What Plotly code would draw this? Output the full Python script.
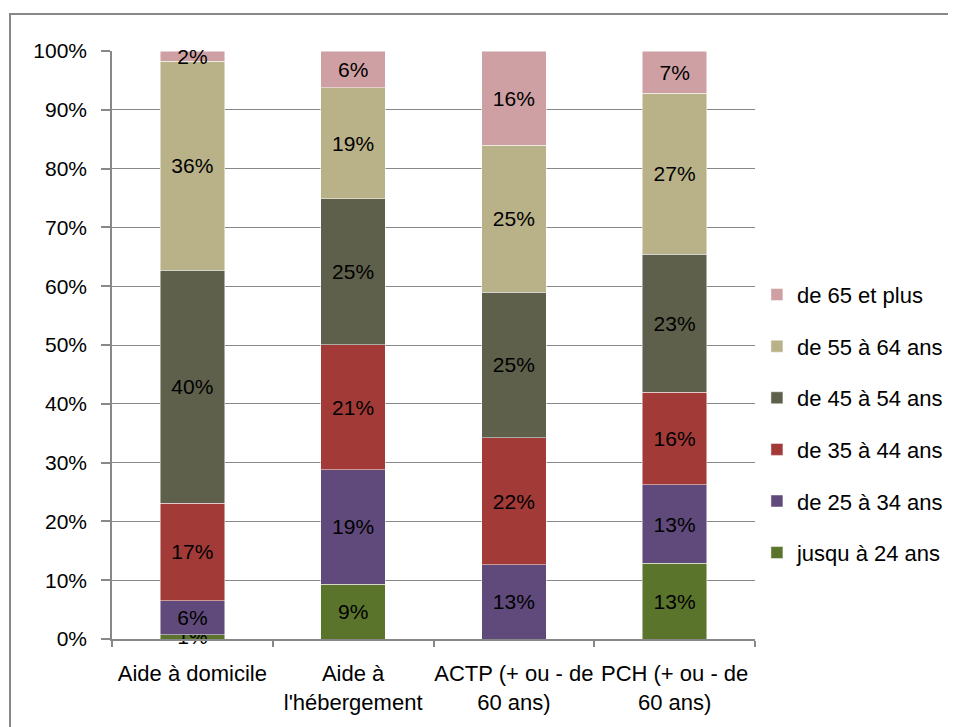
import plotly.graph_objects as go

categories = ["Aide à domicile", "Aide à<br>l'hébergement", "ACTP (+ ou - de<br>60 ans)", "PCH (+ ou - de<br>60 ans)"]

series_names = ["jusqu à 24 ans", "de 25 à 34 ans", "de 35 à 44 ans", "de 45 à 54 ans", "de 55 à 64 ans", "de 65 et plus"]
jusqu_24 = [0.7, 9.35, 0.0, 12.9]
de_25_34 = [5.8, 19.4, 12.6, 13.3]
de_35_44 = [16.6, 21.3, 21.6, 15.8]
de_45_54 = [39.6, 24.8, 24.8, 23.4]
de_55_64 = [35.6, 18.9, 25.0, 27.4]
de_65_plus = [1.7, 6.25, 16.0, 7.2]
series_values = [jusqu_24, de_25_34, de_35_44, de_45_54, de_55_64, de_65_plus]
colors = ["#5B742C", "#604A7B", "#A23A38", "#5E604B", "#B9B187", "#CFA0A3"]

y_ticks = [0, 10, 20, 30, 40, 50, 60, 70, 80, 90, 100]
y_tick_labels = [f"{t}%" for t in y_ticks]

FONT = "Liberation Sans, Arial, sans-serif"

fig = go.Figure()
n = len(series_names)
for i, (name, vals, col) in enumerate(zip(series_names, series_values, colors)):
    fig.add_trace(go.Bar(
        x=categories, y=vals, name=name,
        marker=dict(color=col, line=dict(color="rgba(255,255,255,0.6)", width=0.8)),
        text=[f"{round(v)}%" if v > 0 else "" for v in vals],
        textposition="inside", insidetextanchor="middle",
        textangle=0, constraintext="none", cliponaxis=False,
        textfont=dict(family=FONT, size=21, color="black"),
        legendgroup=f"g{n - i}", legendrank=1000 + (n - i),
        hoverinfo="skip",
    ))

grid = "#888888"
fig.update_layout(
    width=948, height=719,
    barmode="stack", bargap=0.6,
    plot_bgcolor="white", paper_bgcolor="white",
    margin=dict(l=104, r=201, t=43, b=88, autoexpand=False),
    font=dict(family=FONT, size=21, color="black"),
    showlegend=True,
    legend=dict(
        x=1.003, xanchor="left", y=0.366, yanchor="middle",
        traceorder="grouped", tracegroupgap=20,
        font=dict(family=FONT, size=22, color="black"),
        bgcolor="rgba(0,0,0,0)",
    ),
    xaxis=dict(
        showline=True, linecolor=grid, linewidth=1.5,
        ticks="outside", tickson="boundaries", ticklen=6, tickcolor=grid, tickwidth=1.5,
        showgrid=False, tickfont=dict(family=FONT, size=22, color="black"),
        tickangle=0, automargin=False,
        ticklabelstandoff=14,
    ),
    yaxis=dict(
        range=[0, 100.0001], tickvals=y_ticks, ticktext=y_tick_labels,
        showline=True, linecolor=grid, linewidth=1.5,
        ticks="outside", ticklen=9, tickcolor=grid, tickwidth=1.5,
        showgrid=True, gridcolor=grid, gridwidth=1.2,
        zeroline=False, automargin=False,
        tickfont=dict(family=FONT, size=21, color="black"),
        ticklabelstandoff=10,
    ),
    shapes=[dict(
        type="rect", xref="paper", yref="paper",
        x0=-0.1586, x1=1.35, y0=-0.2, y1=1.0629,
        line=dict(color="#888888", width=2), fillcolor="rgba(0,0,0,0)", layer="below",
    )],
)

fig.write_html("out.html")
